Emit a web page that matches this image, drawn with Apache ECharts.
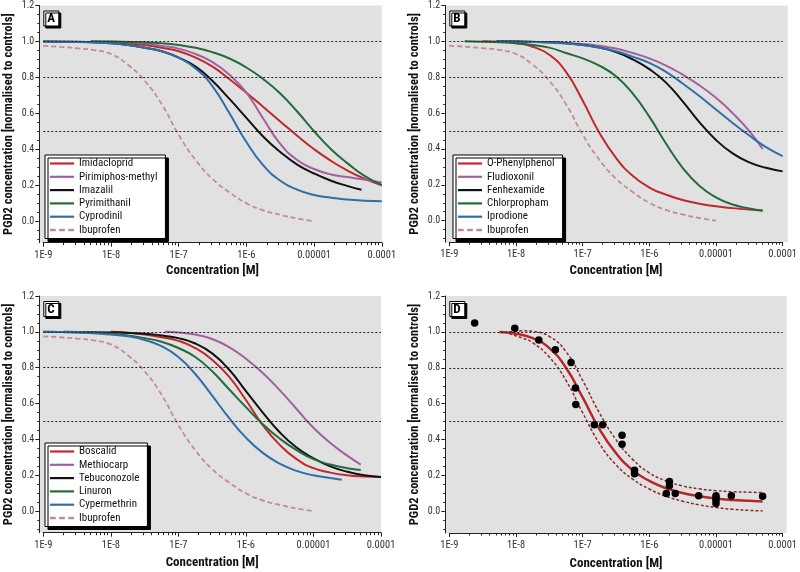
<!DOCTYPE html>
<html><head><meta charset="utf-8">
<script src="https://cdn.jsdelivr.net/npm/echarts@6/dist/echarts.min.js"></script>
<style>html,body{margin:0;padding:0;background:#fff}#c{width:800px;height:572px}</style>
</head><body><div id="c"></div>
<script>
// ---------- DATA (pairs: [log10 concentration (M), normalised PGD2]) ----------
const xTickLabels = {'-9':'1E-9','-8':'1E-8','-7':'1E-7','-6':'1E-6','-5':'0.00001','-4':'0.0001'};
const yTickValues = [0, 0.2, 0.4, 0.6, 0.8, 1.0, 1.2];
const refLines = [1.0, 0.8, 0.5];

const ibuprofen = [[-9,0.975],[-8.75,0.97],[-8.5,0.962],[-8.25,0.952],[-8,0.93],[-7.75,0.87],[-7.5,0.78],[-7.25,0.65],[-7,0.48],[-6.75,0.34],[-6.5,0.235],[-6.25,0.16],[-6,0.10],[-5.75,0.06],[-5.5,0.035],[-5.25,0.015],[-5,0.0]];

// Panel A
const imidacloprid = [[-8.3,1.0],[-8,0.996],[-7.75,0.99],[-7.5,0.98],[-7.25,0.965],[-7,0.945],[-6.75,0.91],[-6.5,0.86],[-6.25,0.79],[-6,0.715],[-5.75,0.635],[-5.5,0.555],[-5.25,0.475],[-5,0.40],[-4.75,0.335],[-4.5,0.28],[-4.25,0.235],[-4,0.20]];
const pirimiphos = [[-8.3,1.0],[-8,0.998],[-7.75,0.995],[-7.5,0.99],[-7.25,0.975],[-7,0.96],[-6.75,0.93],[-6.5,0.885],[-6.25,0.815],[-6,0.715],[-5.75,0.57],[-5.5,0.43],[-5.25,0.34],[-5,0.29],[-4.75,0.26],[-4.5,0.245],[-4.25,0.23],[-4,0.215]];
const imazalil = [[-9,1.0],[-8.5,0.998],[-8,0.99],[-7.75,0.98],[-7.5,0.965],[-7.25,0.945],[-7,0.91],[-6.75,0.86],[-6.5,0.78],[-6.25,0.68],[-6,0.575],[-5.75,0.47],[-5.5,0.385],[-5.25,0.315],[-5,0.265],[-4.75,0.225],[-4.5,0.195],[-4.3,0.175]];
const pyrimithanil = [[-8.3,1.0],[-8,0.999],[-7.5,0.995],[-7.25,0.99],[-7,0.98],[-6.75,0.965],[-6.5,0.94],[-6.25,0.905],[-6,0.855],[-5.75,0.79],[-5.5,0.71],[-5.25,0.61],[-5,0.50],[-4.75,0.40],[-4.5,0.32],[-4.25,0.25],[-4,0.20]];
const cyprodinil = [[-9,1.0],[-8.5,0.997],[-8,0.99],[-7.75,0.98],[-7.5,0.965],[-7.25,0.945],[-7,0.91],[-6.75,0.85],[-6.5,0.75],[-6.25,0.60],[-6,0.44],[-5.75,0.31],[-5.5,0.225],[-5.25,0.175],[-5,0.145],[-4.75,0.13],[-4.5,0.12],[-4.25,0.113],[-4,0.11]];

// Panel B
const oPhenylphenol = [[-8.5,1.0],[-8.25,0.998],[-8,0.99],[-7.75,0.97],[-7.5,0.925],[-7.25,0.83],[-7,0.67],[-6.75,0.49],[-6.5,0.35],[-6.25,0.25],[-6,0.185],[-5.75,0.145],[-5.5,0.115],[-5.25,0.095],[-5,0.08],[-4.75,0.07],[-4.5,0.062],[-4.3,0.057]];
const fludioxonil = [[-8.3,1.0],[-8,0.999],[-7.5,0.995],[-7,0.985],[-6.75,0.975],[-6.5,0.96],[-6.25,0.935],[-6,0.905],[-5.75,0.865],[-5.5,0.815],[-5.25,0.755],[-5,0.685],[-4.75,0.60],[-4.5,0.50],[-4.3,0.40]];
const fenhexamide = [[-8.28,1.0],[-8,0.999],[-7.5,0.995],[-7.25,0.99],[-7,0.98],[-6.75,0.965],[-6.5,0.94],[-6.25,0.90],[-6,0.845],[-5.75,0.77],[-5.5,0.665],[-5.25,0.55],[-5,0.45],[-4.75,0.375],[-4.5,0.325],[-4.25,0.295],[-4,0.275]];
const chlorpropham = [[-8.77,1.0],[-8.5,0.998],[-8.25,0.995],[-8,0.99],[-7.75,0.98],[-7.5,0.965],[-7.25,0.935],[-7,0.905],[-6.75,0.865],[-6.5,0.805],[-6.25,0.71],[-6,0.58],[-5.75,0.43],[-5.5,0.295],[-5.25,0.195],[-5,0.13],[-4.75,0.09],[-4.5,0.068],[-4.3,0.055]];
const iprodione = [[-8.3,1.0],[-8,0.999],[-7.5,0.993],[-7,0.98],[-6.75,0.965],[-6.5,0.945],[-6.25,0.915],[-6,0.88],[-5.75,0.83],[-5.5,0.765],[-5.25,0.695],[-5,0.62],[-4.75,0.545],[-4.5,0.475],[-4.25,0.41],[-4,0.36]];

// Panel C
const boscalid = [[-8,1.0],[-7.75,0.995],[-7.5,0.985],[-7.25,0.97],[-7,0.95],[-6.75,0.91],[-6.5,0.845],[-6.25,0.75],[-6,0.62],[-5.75,0.48],[-5.5,0.37],[-5.25,0.29],[-5,0.24],[-4.75,0.215],[-4.5,0.20],[-4.25,0.193],[-4,0.19]];
const methiocarp = [[-7.2,1.0],[-7,0.997],[-6.75,0.985],[-6.5,0.96],[-6.25,0.915],[-6,0.85],[-5.75,0.77],[-5.5,0.675],[-5.25,0.57],[-5,0.465],[-4.75,0.38],[-4.5,0.31],[-4.3,0.26]];
const tebuconozole = [[-8.7,1.0],[-8.5,0.999],[-8,0.997],[-7.5,0.99],[-7.25,0.98],[-7,0.965],[-6.75,0.935],[-6.5,0.88],[-6.25,0.79],[-6,0.67],[-5.75,0.55],[-5.5,0.44],[-5.25,0.355],[-5,0.295],[-4.75,0.25],[-4.5,0.22],[-4.25,0.20],[-4,0.19]];
const linuron = [[-9,1.0],[-8.5,0.998],[-8,0.99],[-7.75,0.98],[-7.5,0.965],[-7.25,0.945],[-7,0.91],[-6.75,0.86],[-6.5,0.78],[-6.25,0.68],[-6,0.58],[-5.75,0.485],[-5.5,0.405],[-5.25,0.34],[-5,0.29],[-4.75,0.26],[-4.5,0.24],[-4.3,0.23]];
const cypermethrin = [[-9,1.0],[-8.5,0.997],[-8,0.985],[-7.75,0.975],[-7.5,0.955],[-7.25,0.92],[-7,0.86],[-6.75,0.765],[-6.5,0.645],[-6.25,0.52],[-6,0.41],[-5.75,0.325],[-5.5,0.265],[-5.25,0.225],[-5,0.20],[-4.75,0.185],[-4.58,0.175]];

// Panel D
const dFit = [[-8.25,1.0],[-8,0.99],[-7.75,0.965],[-7.5,0.91],[-7.25,0.80],[-7,0.635],[-6.75,0.46],[-6.5,0.325],[-6.25,0.23],[-6,0.17],[-5.75,0.13],[-5.5,0.103],[-5.25,0.085],[-5,0.072],[-4.75,0.064],[-4.5,0.059],[-4.3,0.055]];
const dUpper = [[-8.1,1.0],[-7.9,1.006],[-7.75,1.003],[-7.5,0.975],[-7.25,0.89],[-7,0.73],[-6.75,0.55],[-6.5,0.40],[-6.25,0.29],[-6,0.215],[-5.75,0.17],[-5.5,0.142],[-5.25,0.126],[-5,0.116],[-4.75,0.11],[-4.5,0.107],[-4.3,0.105]];
const dLower = [[-8.1,0.99],[-7.9,0.965],[-7.75,0.94],[-7.5,0.86],[-7.25,0.73],[-7,0.55],[-6.75,0.38],[-6.5,0.26],[-6.25,0.18],[-6,0.125],[-5.75,0.085],[-5.5,0.057],[-5.25,0.037],[-5,0.022],[-4.75,0.012],[-4.5,0.006],[-4.3,0.003]];
// measured points: [concentration M, value]
const dPoints = [[2.4e-9,1.05],[9.6e-9,1.02],[2.2e-8,0.955],[3.9e-8,0.90],[6.7e-8,0.83],[7.8e-8,0.687],[7.9e-8,0.596],[1.5e-7,0.483],[2.0e-7,0.483],[3.9e-7,0.424],[3.9e-7,0.374],[6.0e-7,0.23],[6.0e-7,0.21],[1.8e-6,0.10],[2.0e-6,0.167],[2.0e-6,0.143],[2.45e-6,0.10],[5.5e-6,0.087],[1e-5,0.088],[1e-5,0.075],[1e-5,0.062],[1e-5,0.045],[1.7e-5,0.087],[5e-5,0.085]];

// ---------- STYLE / LAYOUT ----------
const FONT = 'Roboto';
const CND = 'condensed';
const C = {red:'#c0282d', purple:'#a3609f', black:'#111', green:'#236b39', blue:'#2e6fa8', ibu:'#c48c90'};
const ICON_SOLID = 'path://M0,0h24v2.2h-24z';
const ICON_DASH = 'path://M0,0h5v2h-5zM8,0h5v2h-5zM16,0h5v2h-5z';
const panels = [
  {label:'A', left:43.3, top:5.5, width:338.5, height:237.2, nameGap:22, legend:{left:45, top:155},
   lines:[['Imidacloprid',imidacloprid,C.red],['Pirimiphos-methyl',pirimiphos,C.purple],['Imazalil',imazalil,C.black],['Pyrimithanil',pyrimithanil,C.green],['Cyprodinil',cyprodinil,C.blue],['Ibuprofen',ibuprofen,C.ibu,true]]},
  {label:'B', left:449.3, top:5.5, width:338.4, height:236.7, nameGap:22, legend:{left:453, top:155},
   lines:[['O-Phenylphenol',oPhenylphenol,C.red],['Fludioxonil',fludioxonil,C.purple],['Fenhexamide',fenhexamide,C.black],['Chlorpropham',chlorpropham,C.green],['Iprodione',iprodione,C.blue],['Ibuprofen',ibuprofen,C.ibu,true]]},
  {label:'C', left:43.3, top:296, width:337.7, height:236.7, nameGap:24, legend:{left:45, top:443},
   lines:[['Boscalid',boscalid,C.red],['Methiocarp',methiocarp,C.purple],['Tebuconozole',tebuconozole,C.black],['Linuron',linuron,C.green],['Cypermethrin',cypermethrin,C.blue],['Ibuprofen',ibuprofen,C.ibu,true]]},
  {label:'D', left:449.3, top:296, width:337.4, height:237, nameGap:24, legend:null, lines:[]}
];
const YMIN = -0.12, YMAX = 1.2;
const minorX = []; for (let d=-9; d<-4; d++) for (let m=2; m<10; m++) minorX.push(m*Math.pow(10,d));
const minorY = []; for (let k=-2; k<=24; k++) minorY.push(+(k*0.05).toFixed(2));
const toXY = pts => pts.map(p => [Math.pow(10,p[0]), p[1]]);

const opt = {animation:false, backgroundColor:'#fff', grid:[], xAxis:[], yAxis:[], series:[], title:[], legend:[], graphic:[]};
const axisColor = '#222';
panels.forEach((P,i) => {
  opt.grid.push({left:P.left, top:P.top, width:P.width, height:P.height});
  opt.graphic.push({type:'rect', z:-10, shape:{x:P.left-4, y:P.top, width:P.width+4, height:P.height}, style:{fill:'#e1e1e1'}});
  opt.xAxis.push({type:'log', logBase:10, gridIndex:i, min:1e-9, max:1e-4, position:'bottom',
    axisLine:{show:true, onZero:false, lineStyle:{color:axisColor, width:1}},
    axisTick:{show:true, length:4, lineStyle:{color:axisColor}},
    axisLabel:{formatter:v => xTickLabels[String(Math.round(Math.log10(v)))] || '', fontFamily:FONT, fontStyle:CND, fontSize:10.5, color:'#333', margin:7},
    splitLine:{show:false}, minorTick:{show:false},
    name:'Concentration [M]', nameLocation:'middle', nameGap:P.nameGap,
    nameTextStyle:{fontFamily:FONT, fontStyle:CND, fontWeight:'bold', fontSize:13, color:'#111'}});
  opt.xAxis.push({type:'log', logBase:10, gridIndex:i, min:1e-9, max:1e-4, position:'bottom',
    axisLine:{show:false, onZero:false}, axisLabel:{show:false}, splitLine:{show:false},
    axisTick:{show:true, customValues:minorX, length:2.5, lineStyle:{color:axisColor}}});
  opt.yAxis.push({type:'value', gridIndex:i, min:YMIN, max:YMAX, position:'left', offset:4,
    axisLine:{show:true, onZero:false, lineStyle:{color:axisColor, width:1}},
    axisTick:{show:true, customValues:yTickValues, length:4, lineStyle:{color:axisColor}},
    axisLabel:{customValues:yTickValues, formatter:v => v.toFixed(1), fontFamily:FONT, fontStyle:CND, fontSize:10, color:'#333', margin:5},
    splitLine:{show:false},
    name:'PGD2 concentration [normalised to controls]', nameLocation:'middle', nameGap:24,
    nameTextStyle:{fontFamily:FONT, fontStyle:CND, fontWeight:'bold', fontSize:12.5, color:'#111'}});
  opt.yAxis.push({type:'value', gridIndex:i, min:YMIN, max:YMAX, position:'left', offset:4,
    axisLine:{show:false, onZero:false}, axisLabel:{show:false}, splitLine:{show:false},
    axisTick:{show:true, customValues:minorY, length:2, lineStyle:{color:axisColor}}});
  opt.title.push({text:P.label, left:P.left, top:P.top+5, padding:[2,4,1,4],
    backgroundColor:'#fff', borderColor:'#000', borderWidth:1,
    shadowColor:'#000', shadowOffsetX:2, shadowOffsetY:2, shadowBlur:0,
    textStyle:{fontFamily:FONT, fontStyle:CND, fontWeight:'bold', fontSize:13, color:'#000'}});
  opt.series.push({type:'line', name:'ref'+i, xAxisIndex:2*i, yAxisIndex:2*i, data:[], silent:true, z:1,
    markLine:{silent:true, symbol:'none', label:{show:false}, animation:false,
      lineStyle:{color:'#222', type:[2,2], width:1},
      data: refLines.map(v => ({yAxis:v}))}});
  P.lines.forEach(([name, pts, color, dashed]) => {
    opt.series.push({type:'line', name, xAxisIndex:2*i, yAxisIndex:2*i, data:toXY(pts), smooth:0.5,
      symbol:'none', z: dashed ? 2 : 3,
      lineStyle:{color, width: dashed ? 1.8 : 2, type: dashed ? [5,3] : 'solid'}, itemStyle:{color}});
  });
  if (P.legend) {
    opt.legend.push({orient:'vertical', left:P.legend.left, top:P.legend.top, selectedMode:false,
      data:P.lines.map(l => ({name:l[0], icon: l[3] ? ICON_DASH : ICON_SOLID})),
      itemWidth:24, itemHeight:10, itemGap:2.3, symbolKeepAspect:true,
      padding:[3,8,3,5], backgroundColor:'#fff', borderColor:'#000', borderWidth:1,
      shadowColor:'#000', shadowOffsetX:3, shadowOffsetY:3, shadowBlur:0,
      itemStyle:{borderWidth:0},
      textStyle:{fontFamily:FONT, fontStyle:CND, fontSize:11, color:'#111', lineHeight:10}});
  }
});
// Panel D
opt.series.push({type:'line', name:'Upper', xAxisIndex:6, yAxisIndex:6, data:toXY(dUpper), smooth:0.5, symbol:'none', z:3,
  lineStyle:{color:'#8e2a2a', width:1.5, type:[3,2]}});
opt.series.push({type:'line', name:'Lower', xAxisIndex:6, yAxisIndex:6, data:toXY(dLower), smooth:0.5, symbol:'none', z:3,
  lineStyle:{color:'#8e2a2a', width:1.5, type:[3,2]}});
opt.series.push({type:'line', name:'Fit', xAxisIndex:6, yAxisIndex:6, data:toXY(dFit), smooth:0.5, symbol:'none', z:4,
  lineStyle:{color:'#b8262b', width:2.5}});
opt.series.push({type:'scatter', name:'Measured', xAxisIndex:6, yAxisIndex:6, data:dPoints, symbolSize:7.5, z:5,
  itemStyle:{color:'#000', opacity:1}});

const chart = echarts.init(document.getElementById('c'), null, {renderer:'canvas'});
chart.setOption(opt);
</script></body></html>
